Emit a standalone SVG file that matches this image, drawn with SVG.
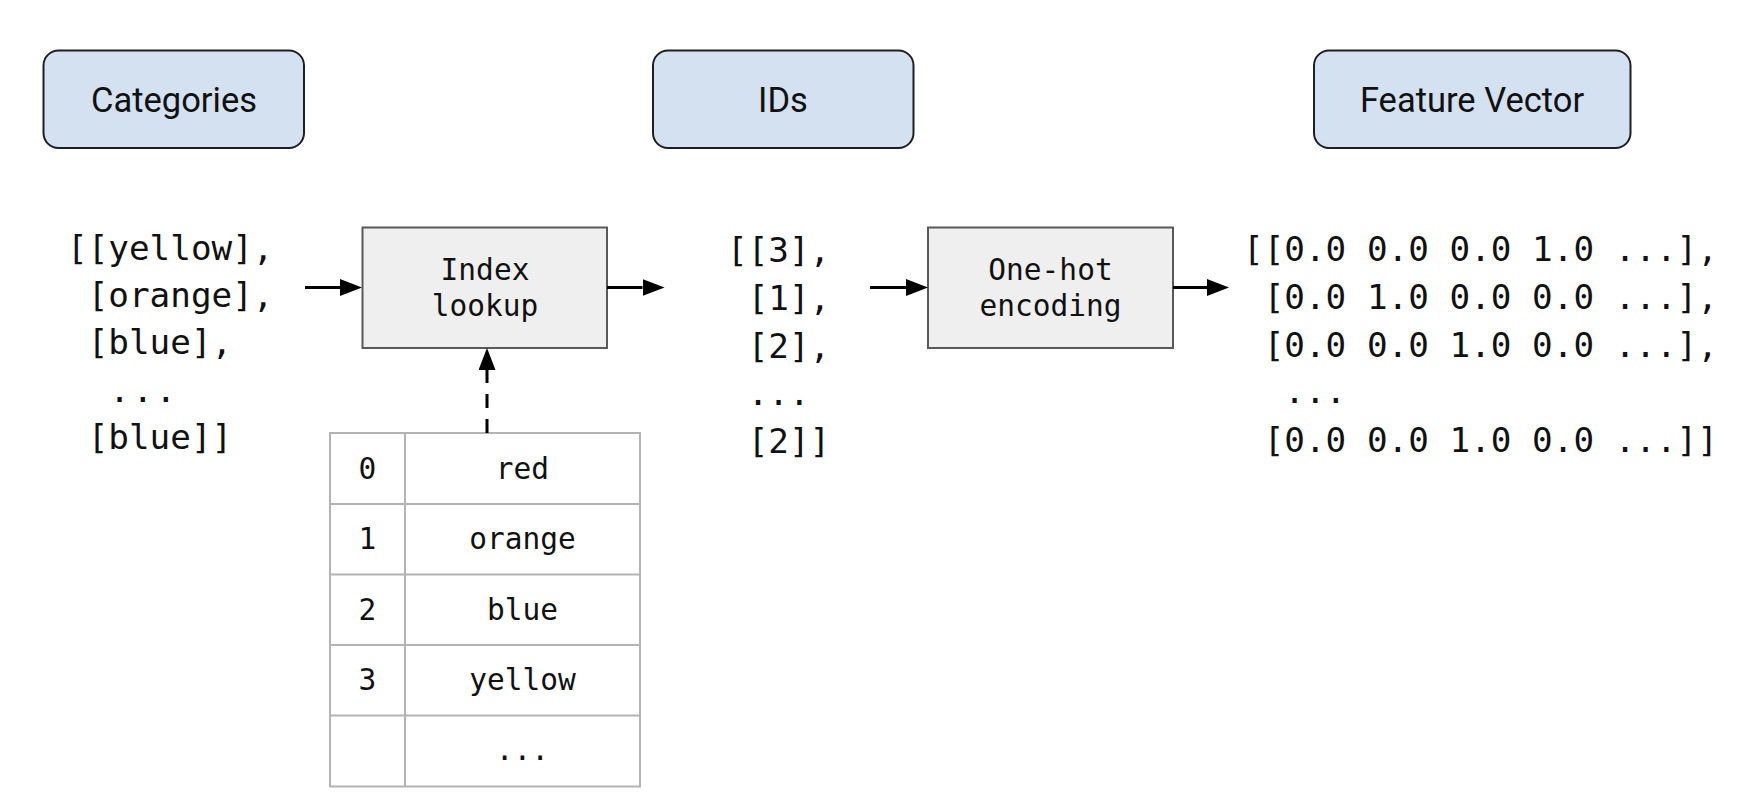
<svg xmlns="http://www.w3.org/2000/svg" width="1760" height="804" viewBox="0 0 1760 804">
<style>
.head{fill:#d4e1f0;stroke:#1f1f1f;stroke-width:2}
.proc{fill:#efefef;stroke:#595959;stroke-width:2}
.ht{font-family:Roboto,"Liberation Sans",sans-serif;font-size:34.5px;fill:#111;text-anchor:middle}
.mono{font-family:"DejaVu Sans Mono","Liberation Mono",monospace;font-size:34.3px;fill:#111;white-space:pre}
.pt{font-family:"DejaVu Sans Mono","Liberation Mono",monospace;font-size:29.5px;fill:#111;text-anchor:middle}
.tl{fill:none;stroke:#b3b3b3;stroke-width:2}
.conn{stroke:#000;stroke-width:3;fill:none}
.dash{stroke-dasharray:14 11}
</style>
<defs>
<marker id="ah" markerUnits="userSpaceOnUse" viewBox="0 0 22 17" refX="0" refY="8.5" markerWidth="22" markerHeight="17" orient="auto">
<path d="M0,0 L22,8.5 L0,17 Z" fill="#000"/>
</marker>
</defs>

<g id="categories">
<rect class="head" x="43.5" y="50.5" width="260.5" height="97.5" rx="15"/>
<text class="ht" x="174" y="112">Categories</text>
</g>
<g id="ids">
<rect class="head" x="653" y="50.5" width="260.5" height="97.5" rx="15"/>
<text class="ht" x="783" y="112">IDs</text>
</g>
<g id="feature-vector">
<rect class="head" x="1314" y="50.5" width="316.5" height="97.5" rx="15"/>
<text class="ht" x="1472" y="112">Feature Vector</text>
</g>

<g id="categories-data">
<text class="mono" x="67" y="260">[[yellow],</text>
<text class="mono" x="67" y="307"> [orange],</text>
<text class="mono" x="67" y="354"> [blue],</text>
<text class="mono" x="63" y="401.5" letter-spacing="2.5">  ...</text>
<text class="mono" x="67" y="449"> [blue]]</text>
</g>

<g id="index-lookup">
<rect class="proc" x="362.5" y="227.5" width="244.5" height="120.5"/>
<text class="pt" x="485" y="280">Index</text>
<text class="pt" x="485" y="315.5">lookup</text>
</g>

<g id="ids-data">
<text class="mono" x="727" y="262">[[3],</text>
<text class="mono" x="727" y="310"> [1],</text>
<text class="mono" x="727" y="357.5"> [2],</text>
<text class="mono" x="727" y="405"> ...</text>
<text class="mono" x="727" y="452.5"> [2]]</text>
</g>

<g id="one-hot-encoding">
<rect class="proc" x="928" y="227.5" width="245" height="120.5"/>
<text class="pt" x="1050.5" y="280">One-hot</text>
<text class="pt" x="1050.5" y="315.5">encoding</text>
</g>

<g id="feature-data">
<text class="mono" x="1243" y="261">[[0.0 0.0 0.0 1.0 ...],</text>
<text class="mono" x="1243" y="309"> [0.0 1.0 0.0 0.0 ...],</text>
<text class="mono" x="1243" y="356.5"> [0.0 0.0 1.0 0.0 ...],</text>
<text class="mono" x="1243" y="403">  ...</text>
<text class="mono" x="1243" y="451.5"> [0.0 0.0 1.0 0.0 ...]]</text>
</g>

<g id="lookup-table">
<rect class="tl" x="330" y="433" width="310" height="353.5"/>
<line class="tl" x1="405" y1="433" x2="405" y2="786.5"/>
<line class="tl" x1="330" y1="504" x2="640" y2="504"/>
<line class="tl" x1="330" y1="574.5" x2="640" y2="574.5"/>
<line class="tl" x1="330" y1="645" x2="640" y2="645"/>
<line class="tl" x1="330" y1="715.5" x2="640" y2="715.5"/>
<text class="pt" x="367.5" y="478.5">0</text>
<text class="pt" x="522.5" y="478.5">red</text>
<text class="pt" x="367.5" y="549">1</text>
<text class="pt" x="522.5" y="549">orange</text>
<text class="pt" x="367.5" y="619.5">2</text>
<text class="pt" x="522.5" y="619.5">blue</text>
<text class="pt" x="367.5" y="690">3</text>
<text class="pt" x="522.5" y="690">yellow</text>
<text class="pt" x="522.5" y="760">...</text>
</g>

<g id="connectors">
<line class="conn" x1="305" y1="287.5" x2="340" y2="287.5" marker-end="url(#ah)"/>
<line class="conn" x1="607" y1="287.5" x2="642.5" y2="287.5" marker-end="url(#ah)"/>
<line class="conn" x1="870" y1="287.5" x2="906" y2="287.5" marker-end="url(#ah)"/>
<line class="conn" x1="1173" y1="287.5" x2="1207" y2="287.5" marker-end="url(#ah)"/>
<line class="conn dash" x1="487" y1="433" x2="487" y2="370" marker-end="url(#ah)"/>
</g>
</svg>
